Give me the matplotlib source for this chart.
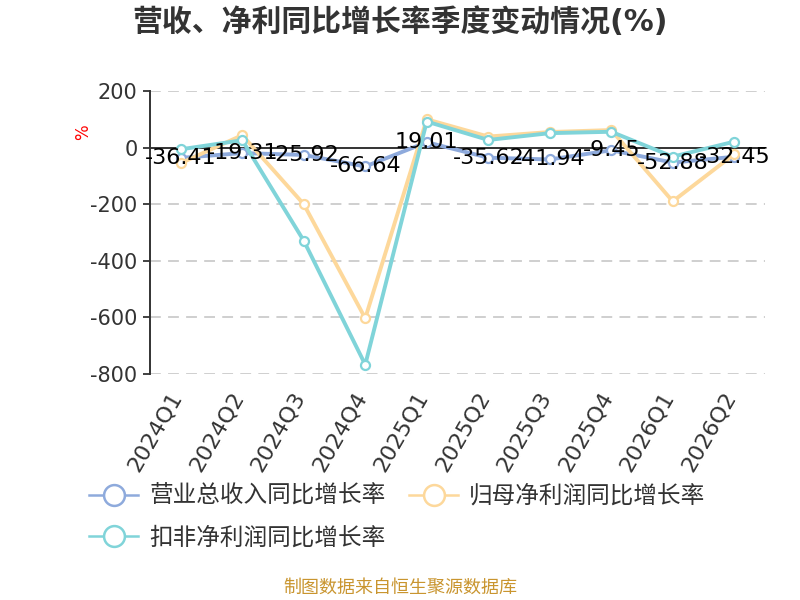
import matplotlib
matplotlib.use("Agg")
import matplotlib.pyplot as plt
import matplotlib.transforms as mtransforms
from matplotlib.lines import Line2D

plt.rcParams['font.family'] = ['DejaVu Sans', 'Noto Sans CJK SC']
plt.rcParams['axes.unicode_minus'] = False

quarters = ["2024Q1", "2024Q2", "2024Q3", "2024Q4", "2025Q1",
            "2025Q2", "2025Q3", "2025Q4", "2026Q1", "2026Q2"]
revenue_yoy = [-36.41, -19.31, -25.92, -66.64, 19.01,
               -35.62, -41.94, -9.45, -52.88, -32.45]
net_profit_yoy = [-55, 44, -200, -603, 100, 39, 55, 62, -190, -23]
deducted_profit_yoy = [-6, 26, -329, -767, 92, 27, 51, 56, -32, 21]

names = ["营业总收入同比增长率", "归母净利润同比增长率", "扣非净利润同比增长率"]
colors = ["#8eaadc", "#fdd89b", "#80d4d9"]

fig = plt.figure(figsize=(8, 6), dpi=100)
ax = fig.add_axes([150 / 800, 1 - 374 / 600, 615 / 800, 283 / 600])

x = list(range(len(quarters)))
series = [revenue_yoy, net_profit_yoy, deducted_profit_yoy]
for vals, c in zip(series, colors):
    ax.plot(x, vals, color=c, lw=2.8, marker="o", markersize=6.5,
            markerfacecolor="white", markeredgecolor=c, markeredgewidth=1.6,
            zorder=3)

for xi, v in zip(x, revenue_yoy):
    ax.text(xi, v, f"{v:.2f}", ha="center", va="center", fontsize=16,
            color="black", zorder=5)

ax.set_xlim(-0.5, len(quarters) - 0.5)
ax.set_ylim(-800, 200)
ax.set_yticks([200, 0, -200, -400, -600, -800])
for yv in [200, -200, -400, -600, -800]:
    ax.axhline(yv, color="#cccccc", lw=1.3, ls=(0, (6, 4)), zorder=1)
ax.axhline(0, color="#333333", lw=1.4, zorder=2)

# category labels drawn as text so they can sit left of the tick position
ax.set_xticks(x)
ax.set_xticklabels([])
ax.tick_params(axis="x", length=0)
trans = ax.get_xaxis_transform() + mtransforms.ScaledTranslation(
    -12 / 100, -14 / 100, fig.dpi_scale_trans)
for xi, q in zip(x, quarters):
    ax.text(xi, 0, q, transform=trans, rotation=60, ha="right", va="top",
            rotation_mode="anchor", fontsize=16, color="#333333")

ax.tick_params(axis="y", length=5, width=1.3, color="#333333",
               labelsize=15, labelcolor="#333333", pad=4)

for s in ["top", "right", "bottom"]:
    ax.spines[s].set_visible(False)
ax.spines["left"].set_color("#333333")
ax.spines["left"].set_linewidth(1.4)

fig.text(83 / 800, 1 - 132 / 600, "%", color="red", fontsize=12,
         rotation=90, ha="center", va="center")

fig.text(0.5, 1 - 22 / 600, "营收、净利同比增长率季度变动情况(%)",
         ha="center", va="center", fontsize=21.5, fontweight="bold",
         color="#333333")

handles = [Line2D([0], [0], color=c, lw=1.8, marker="o", markersize=15,
                  markerfacecolor="white", markeredgecolor=c,
                  markeredgewidth=1.8) for c in colors]
# legend fills column by column, so reorder to get row-wise layout
order = [0, 2, 1]
fig.legend([handles[i] for i in order], [names[i] for i in order],
           loc="upper left", bbox_to_anchor=(77 / 800, 1 - 472 / 600),
           ncol=2, frameon=False, fontsize=17, handlelength=2.1,
           handletextpad=0.45, columnspacing=1.0, labelspacing=0.75,
           borderpad=0, labelcolor="#333333")

fig.text(0.5, 1 - 588 / 600, "制图数据来自恒生聚源数据库", ha="center",
         va="center", fontsize=13, color="#c9952f")

fig.savefig("out.png", dpi=100)
